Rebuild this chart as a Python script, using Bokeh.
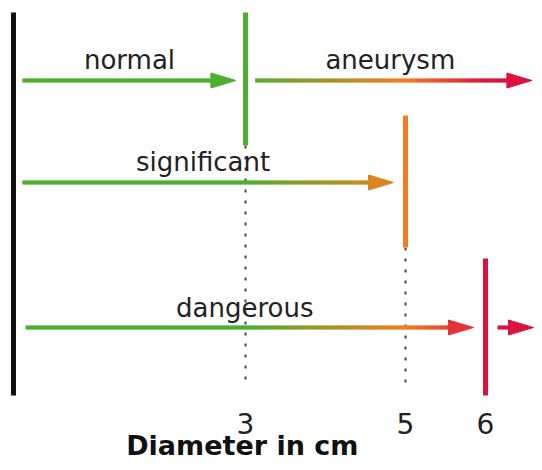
import numpy as np
from bokeh.plotting import figure
from bokeh.models import Range1d
from bokeh.core.properties import value
from bokeh.embed import file_html
from bokeh.resources import INLINE

# ---- data (diameters in cm) ----
thresholds = [3, 5, 6]
threshold_colors = ["#4cb02e", "#f57c20", "#dc1240"]
tick_labels = ["3", "5", "6"]
axis_title = "Diameter in cm"

# arrows: label, from (cm), to (cm), row
arrow_labels = ["normal", "aneurysm", "significant", "dangerous", ""]
arrow_from = [0.21, 3.12, 0.21, 0.25, 6.15]
arrow_to = [2.88, 6.58, 4.85, 5.85, 6.60]
arrow_row = [0, 0, 1, 2, 2]

# ---- layout (vertical, in pixels from top) ----
row_y = [80, 182, 327]
bar_top = [12, 115, 258]
bar_bottom = [145, 247, 395]
wall_x = 0.1
base_y = 395
guide_bottom = 387
label_x = [1.55, 4.81, 2.47, 2.99]
label_y = [59, 59, 161, 307]

W, H = 534, 462
X0 = -5 / 80
X1 = X0 + W / 80
p = figure(width=W, height=H, x_range=Range1d(X0, X1), y_range=Range1d(H, 0),
           output_backend="svg", toolbar_location=None, min_border=0)
p.axis.visible = False
p.grid.visible = False
p.outline_line_color = None
p.background_fill_color = "white"
p.border_fill_color = "white"

px_per_cm = 80.0


def hex2rgb(h):
    return np.array([int(h[i:i + 2], 16) for i in (1, 3, 5)], dtype=float)


cols = np.array([hex2rgb(c) for c in threshold_colors])


def color_at(x):
    rgb = [np.interp(x, thresholds, cols[:, k]) for k in range(3)]
    return "#%02x%02x%02x" % tuple(int(round(v)) for v in rgb)


# wall
p.segment(x0=[wall_x], y0=[bar_top[0]], x1=[wall_x], y1=[base_y], line_color="#111111", line_width=5)

# dotted guides under the first two thresholds
p.segment(x0=thresholds[:2], y0=bar_bottom[:2], x1=thresholds[:2], y1=[guide_bottom] * 2,
          line_color="#444444", line_width=2, line_dash="3 8")

# gradient arrow shafts + heads
head_len = 25 / px_per_cm
head_half = 7.5
seg_x0, seg_x1, seg_y, seg_c = [], [], [], []
head_xs, head_ys, head_c = [], [], []
for a, b, r in zip(arrow_from, arrow_to, arrow_row):
    y = row_y[r]
    shaft_end = b - head_len + 0.02
    edges = np.linspace(a, shaft_end, max(2, int((shaft_end - a) / 0.02) + 1))
    for e0, e1 in zip(edges[:-1], edges[1:]):
        seg_x0.append(e0)
        seg_x1.append(min(e1 + 0.01, shaft_end))
        seg_y.append(y)
        seg_c.append(color_at((e0 + e1) / 2))
    head_xs.append([b - head_len, b, b - head_len])
    head_ys.append([y - head_half, y, y + head_half])
    head_c.append(color_at(b - head_len / 2))

p.segment(x0=seg_x0, y0=seg_y, x1=seg_x1, y1=seg_y, line_color=seg_c, line_width=4, line_cap="butt")
p.patches(xs=head_xs, ys=head_ys, fill_color=head_c, line_color=head_c, line_width=1)

# threshold bars
p.segment(x0=thresholds, y0=bar_top, x1=thresholds, y1=bar_bottom, line_color=threshold_colors, line_width=5)

# labels
p.text(x=label_x, y=label_y, text=arrow_labels[:4], text_font=value("DejaVu Sans"),
       text_font_size="26px", text_color="#222222", text_align="center", text_baseline="alphabetic")

# tick labels
p.text(x=thresholds, y=[423] * 3, text=tick_labels, text_font=value("DejaVu Sans"),
       text_font_size="28px", text_color="#222222", text_align="center", text_baseline="alphabetic")

# axis title
p.text(x=[2.96], y=[445], text=[axis_title], text_font=value("DejaVu Sans"), text_font_style="bold",
       text_font_size="27px", text_color="#111111", text_align="center", text_baseline="alphabetic")

open("out.html", "w").write(file_html(p, INLINE))
